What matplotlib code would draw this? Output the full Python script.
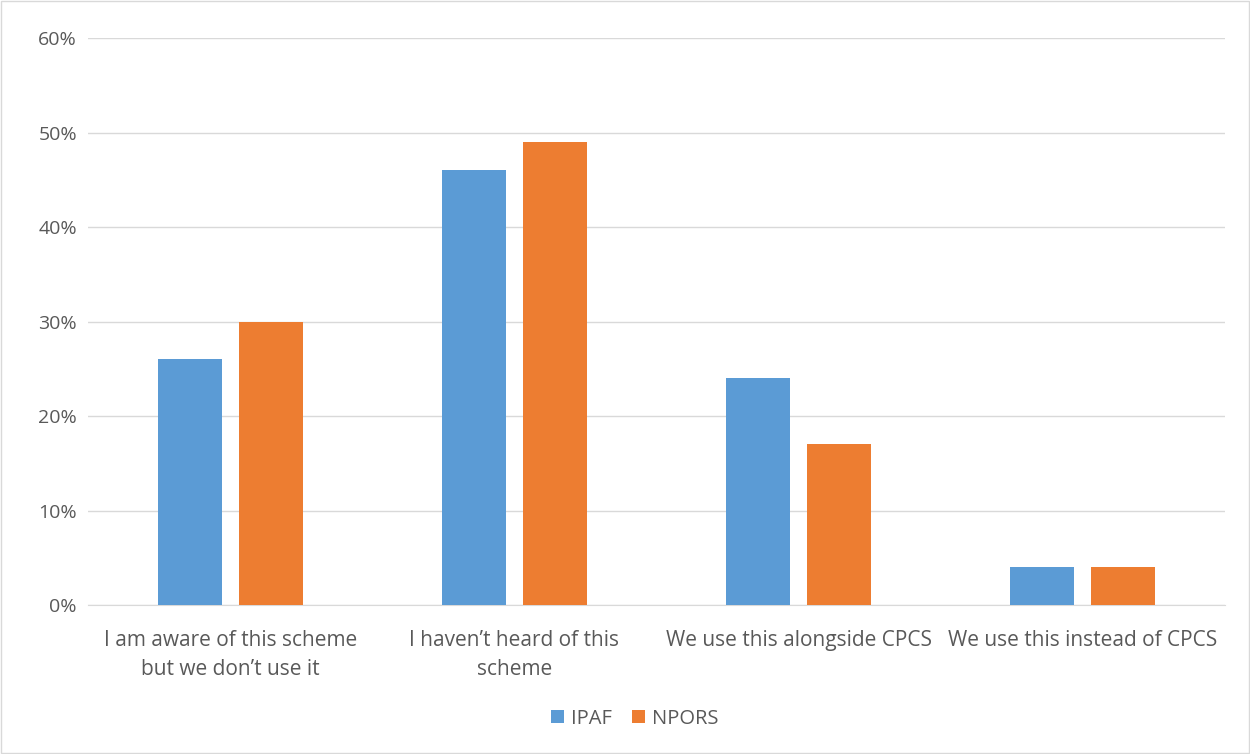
import numpy as np
import matplotlib
matplotlib.use("Agg")
import matplotlib.pyplot as plt
from matplotlib.ticker import PercentFormatter
from matplotlib.patches import Rectangle

categories = ["I am aware of this scheme\nbut we don\u2019t use it",
              "I haven\u2019t heard of this\nscheme",
              "We use this alongside CPCS",
              "We use this instead of CPCS"]
ipaf = [26, 46, 24, 4]
npors = [30, 49, 17, 4]
series_names = ["IPAF", "NPORS"]
colors = ["#5B9BD5", "#ED7D31"]

plt.rcParams['font.family'] = ['Open Sans', 'DejaVu Sans']

fig = plt.figure(figsize=(12.5, 7.54), dpi=100)
ax = fig.add_axes([0.0704, 0.1976, 0.9096, 0.752])

x = np.arange(len(categories))
w = 0.225
gap = 0.06
ax.bar(x - (w + gap) / 2, ipaf, w, color=colors[0], label=series_names[0], zorder=3)
ax.bar(x + (w + gap) / 2, npors, w, color=colors[1], label=series_names[1], zorder=3)

ax.set_xlim(-0.5, len(categories) - 0.5)
ax.set_ylim(0, 60)
ax.set_yticks(range(0, 61, 10))
ax.yaxis.set_major_formatter(PercentFormatter(decimals=0))
ax.grid(axis='y', color='#D9D9D9', linewidth=1, zorder=0)
for s in ['top', 'right', 'left']:
    ax.spines[s].set_visible(False)
ax.spines['bottom'].set_color('#D9D9D9')
ax.tick_params(axis='y', length=0, labelsize=14, colors='#595959', pad=8)
ax.tick_params(axis='x', length=0, labelsize=15, colors='#595959', pad=18)
ax.set_xticks(x)
ax.set_xticklabels(categories, linespacing=1.5)

leg = fig.legend(loc='center', bbox_to_anchor=(0.508, 0.047), ncol=2, frameon=False,
                 fontsize=14.5, handlelength=0.65, handleheight=0.65, columnspacing=1.0,
                 handletextpad=0.35)
for t in leg.get_texts():
    t.set_color('#595959')

fig.patches.append(Rectangle((0.001, 0.001), 0.998, 0.998, transform=fig.transFigure,
                             fill=False, edgecolor='#D9D9D9', linewidth=1))

fig.savefig("out.png", dpi=100)
